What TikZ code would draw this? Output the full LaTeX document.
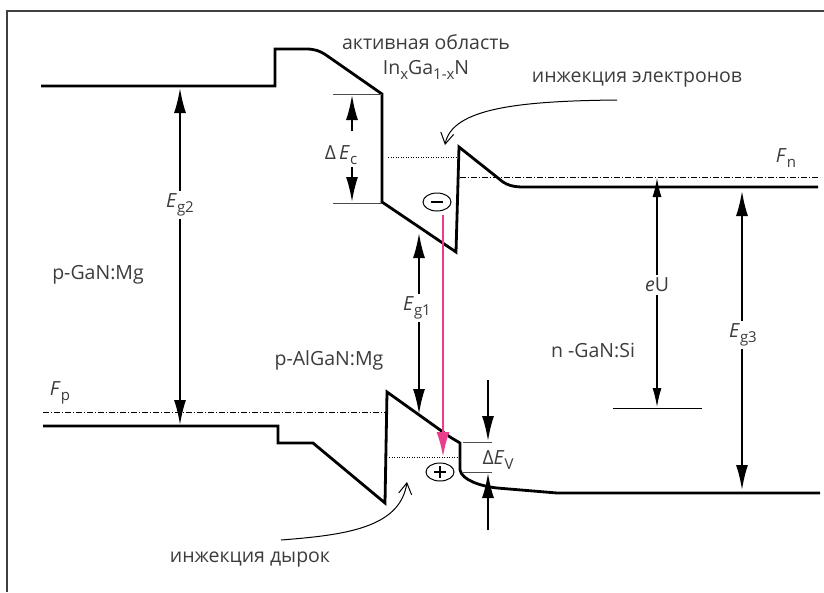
\documentclass[tikz,border=0pt]{standalone}
\usepackage{fontspec}
\setmainfont{Open Sans}
\usetikzlibrary{arrows.meta,shapes.geometric}
\definecolor{pinkarrow}{RGB}{232,62,140}
\definecolor{txt}{RGB}{60,60,60}
\newcommand\lowsub[1]{\raisebox{-0.45ex}{\fontsize{15}{16}\selectfont #1}}
\begin{document}
\begin{tikzpicture}[x=1pt,y=-1pt,
  band/.style={line width=2.8pt, line join=miter},
  lbl/.style={font=\fontsize{19.5}{22}\selectfont, text=txt, inner sep=0pt},
  cut/.style={lbl, fill=white, inner sep=3pt},
  bigtip/.style={-{Latex[length=25pt,width=12pt]}},
  gaparrow/.style={line width=1.8pt, {Latex[length=25pt,width=12pt]}-{Latex[length=25pt,width=12pt]}},
  thinarrow/.style={line width=1.2pt, {Latex[length=19pt,width=9pt]}-{Latex[length=19pt,width=9pt]}},
  tick/.style={line width=0.8pt, black!70},
  fermi/.style={line width=0.8pt, dash pattern=on 6pt off 2pt on 1pt off 2pt},
  dotline/.style={line width=1pt, dash pattern=on 1pt off 1.5pt},
  inject/.style={line width=1pt, -{Straight Barb[length=11pt,width=13pt]}},
  carrier/.style={draw, line width=1pt, ellipse, minimum width=28pt, minimum height=18pt, inner sep=0pt}
]
\useasboundingbox (0,0) rectangle (824,592);
% frame
\draw[line width=1.5pt, black!75] (7,592) -- (7,11) -- (824,11);

% conduction band
\draw[band] (41,86) -- (275,86) -- (275,49) -- (306,49) .. controls (315,49) and (320,51) .. (326,55) -- (382,94) -- (382,202) -- (456,252) -- (459,147) -- (503,182) .. controls (512,188) and (522,187) .. (535,187) -- (818,187);
% valence band
\draw[band] (43,426) -- (278,426) -- (278,443) -- (313,443) -- (385,503) -- (387,392) -- (450,437) -- (460,443) -- (460,470) .. controls (462,480) and (480,486) .. (497,488) -- (557,493) -- (820,493);

% Fermi levels
\draw[fermi] (460,177) -- (820,177);
\draw[fermi] (43,412) -- (385,412);
% dotted levels
\draw[dotline] (388,157) -- (456,157);
\draw[dotline] (389,457) -- (460,457);

% Delta Ec
\draw[tick] (333,94) -- (382,94);
\draw[tick] (333,203) -- (382,203);
\coordinate (dEcA) at (352,131);
\coordinate (dEcB) at (352,95);
\coordinate (dEcC) at (352,167);
\coordinate (dEcD) at (352,202);
\draw[line width=1.8pt, bigtip] (dEcA) -- (dEcB);
\draw[line width=1.8pt, bigtip] (dEcC) -- (dEcD);
\node[lbl] (dEc) at (341,155) {Δ\,\textit{E}\lowsub{c}};

% Delta Ev
\draw[tick] (463,442) -- (492,442);
\draw[tick] (463,472) -- (492,472);
\coordinate (dEvA) at (488,380);
\coordinate (dEvB) at (488,441);
\coordinate (dEvC) at (488,530);
\coordinate (dEvD) at (488,473);
\draw[line width=1.8pt, bigtip] (dEvA) -- (dEvB);
\draw[line width=1.8pt, bigtip] (dEvC) -- (dEvD);
\node[lbl] (dEv) at (498,460) {Δ\textit{E}\lowsub{V}};

% band gaps
\coordinate (g2t) at (180,88);
\coordinate (g2b) at (180,425);
\draw[gaparrow] (g2t) -- (g2b);
\node[cut] (Eg2) at (180,205) {\textit{E}\lowsub{g2}};

\coordinate (g1t) at (419,233);
\coordinate (g1b) at (419,414);
\draw[gaparrow] (g1t) -- (g1b);
\node[cut] (Eg1) at (417,308) {\textit{E}\lowsub{g1}};

\coordinate (g3t) at (742,191);
\coordinate (g3b) at (742,490);
\draw[gaparrow] (g3t) -- (g3b);
\node[cut] (Eg3) at (743,335) {\textit{E}\lowsub{g3}};

% eU
\draw[line width=1pt] (613,408) -- (702,408);
\coordinate (eUt) at (657,178);
\coordinate (eUb) at (657,407);
\draw[thinarrow] (eUt) -- (eUb);
\node[cut] (eU) at (657,285) {\textit{e}U};

% carriers and recombination
\node[carrier] (el) at (437,202) {};
\draw[line width=2pt] ([xshift=-6pt]el.center) -- ([xshift=6pt]el.center);
\node[carrier] (ho) at (440,472) {};
\draw[line width=1.2pt] ([xshift=-6pt]ho.center) -- ([xshift=6pt]ho.center);
\draw[line width=1.2pt] ([yshift=-6pt]ho.center) -- ([yshift=6pt]ho.center);
\coordinate (recA) at (443,215);
\coordinate (recB) at (443,457);
\draw[line width=2.5pt, pinkarrow, -{Latex[length=25pt,width=13pt]}] (recA) -- (recB);

% injection arrows
\coordinate (ieS) at (617,100);
\coordinate (ieE) at (445,145);
\draw[inject] (ieS) .. controls (520,101) and (452,108) .. (ieE);
\coordinate (ihS) at (281,540);
\coordinate (ihE) at (407,482);
\draw[inject] (ihS) .. controls (345,535) and (400,528) .. (ihE);

% text labels
\node[lbl] (act) at (426,42) {активная область};
\node[lbl] (inx) at (426,70) {In\lowsub{x}Ga\lowsub{1-x}N};
\node[lbl] (injE) at (637,80) {инжекция электронов};
\node[lbl] (Fn) at (786,158) {\textit{F}\lowsub{n}};
\node[lbl] (pGaN) at (98,275) {p-GaN:Mg};
\node[lbl] (nGaN) at (593,350) {n -GaN:Si};
\node[lbl] (pAl) at (329,360) {p-AlGaN:Mg};
\node[lbl] (Fp) at (60,393) {\textit{F}\lowsub{p}};
\node[lbl] (injH) at (250,560) {инжекция дырок};
\end{tikzpicture}
\end{document}
